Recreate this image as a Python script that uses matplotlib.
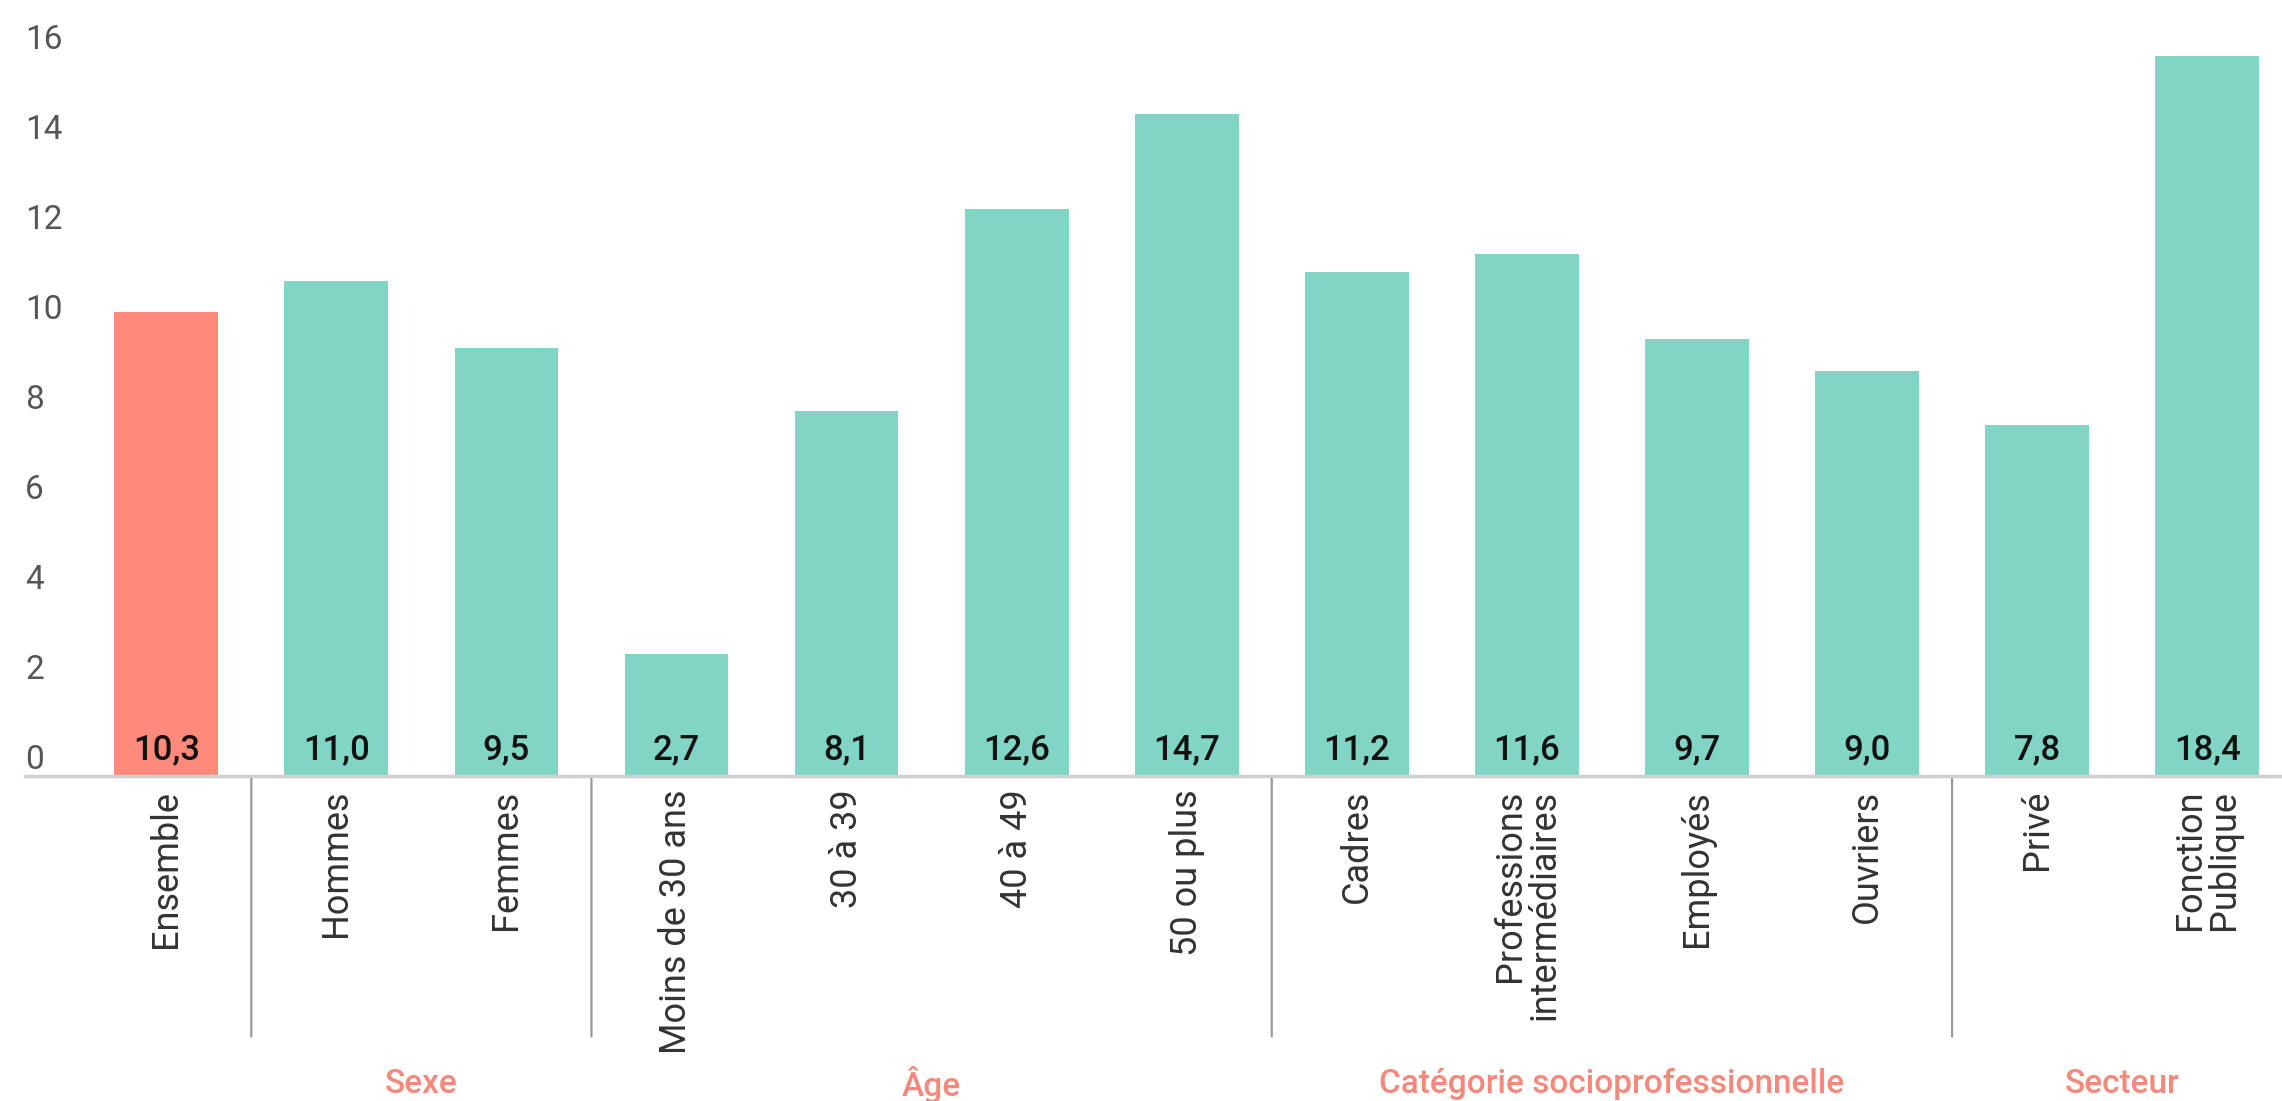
import numpy as np
import matplotlib.pyplot as plt

plt.rcParams['font.family'] = ['Roboto', 'DejaVu Sans']

categories = ['Ensemble', 'Hommes', 'Femmes', 'Moins de 30 ans', '30 à 39',
              '40 à 49', '50 ou plus', 'Cadres', 'Professions\nintermédiaires',
              'Employés', 'Ouvriers', 'Privé', 'Fonction\nPublique']
values = [10.3, 11.0, 9.5, 2.7, 8.1, 12.6, 14.7, 11.2, 11.6, 9.7, 9.0, 7.8, 18.4]
value_labels = ['10,3', '11,0', '9,5', '2,7', '8,1', '12,6', '14,7',
                '11,2', '11,6', '9,7', '9,0', '7,8', '18,4']
groups = ['Sexe', 'Âge', 'Catégorie socioprofessionnelle', 'Secteur']
group_sizes = [2, 4, 4, 2]   # after the "Ensemble" bar
yticks = [0, 2, 4, 6, 8, 10, 12, 14, 16]

teal = '#81D5C5'
salmon = '#FF8A7C'

fig = plt.figure(figsize=(22.82, 11.01), dpi=100)
ax = fig.add_axes([0.011, 0.2952, 0.989, 0.6540])

x = np.arange(len(categories))
colors = [salmon] + [teal] * (len(categories) - 1)
ax.bar(x, values, width=0.61, color=colors, zorder=2)

for xi, lab in zip(x, value_labels):
    ax.annotate(lab, (xi, 0), xytext=(0, 7), textcoords='offset points',
                ha='center', va='bottom', fontsize=25, color='#111111',
                fontweight='medium', zorder=3)

ax.set_xlim(-0.83, 12.44)
ax.set_ylim(0, 16)
ax.set_yticks(yticks)
ax.set_yticklabels([str(t) for t in yticks])
ax.tick_params(axis='y', length=0, pad=0, labelsize=24, labelcolor='#555555')
for lab in ax.get_yticklabels():
    lab.set_horizontalalignment('left')
    lab.set_verticalalignment('bottom')

ax.set_xticks([])
for s in ['top', 'right', 'left']:
    ax.spines[s].set_visible(False)
ax.spines['bottom'].set_color('#D0D0D0')
ax.spines['bottom'].set_linewidth(2.5)

# category labels under the axis
for xi, cat in zip(x, categories):
    ax.annotate(cat, (xi, 0), xytext=(0, -10), textcoords='offset points',
                rotation=90, ha='center', va='top', multialignment='right',
                fontsize=26, color='#333333', linespacing=0.95,
                annotation_clip=False)

# group separators and group titles
start = 1
for g, n in zip(groups, group_sizes):
    ax.annotate('', xy=(start - 0.5, 0), xytext=(start - 0.5, -5.85),
                arrowprops=dict(arrowstyle='-', color='#999999', lw=1.6),
                annotation_clip=False)
    center = start + (n - 1) / 2
    ax.annotate(g, (center, 0), xytext=(0, -222), textcoords='offset points',
                ha='center', va='center', fontsize=24, color='#F4897B',
                fontweight='medium', annotation_clip=False)
    start += n

fig.savefig('out.png', dpi=100)
